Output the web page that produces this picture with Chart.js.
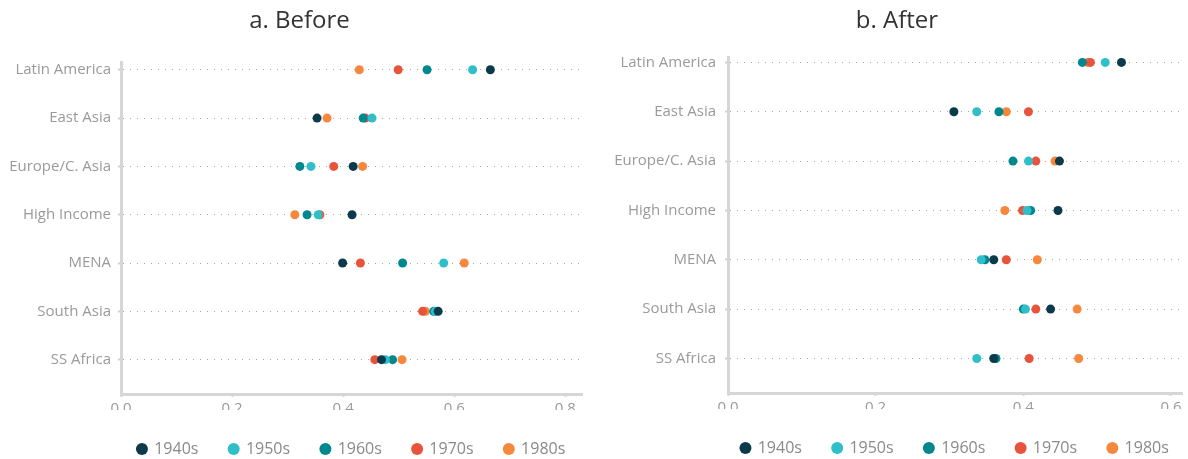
<!DOCTYPE html>
<html>
<head>
<meta charset="utf-8">
<script src="https://cdn.jsdelivr.net/npm/chart.js@4.4.1/dist/chart.umd.min.js"></script>
<style>
    html, body { margin: 0; padding: 0; background: #fff; overflow: hidden; }
    .panel { position: absolute; top: 0; }
    #beforeWrap { left: 0; }
    #afterWrap { left: 600px; }
</style>
</head>
<body>
<div class="panel" id="beforeWrap"><canvas id="beforeChart" width="600" height="467"></canvas></div>
<div class="panel" id="afterWrap"><canvas id="afterChart" width="588" height="466"></canvas></div>
<script>
// Categories / series
const regions = ['Latin America', 'East Asia', 'Europe/C. Asia', 'High Income', 'MENA', 'South Asia', 'SS Africa'];
const decades = ['1940s', '1950s', '1960s', '1970s', '1980s'];
const decadeColors = ['#0b3a4b', '#30bfc8', '#01888f', '#e8533b', '#f5883d'];

// a. Before (one array per decade, in region order)
const before1940s = [0.665, 0.353, 0.418, 0.416, 0.399, 0.571, 0.469];
const before1950s = [0.633, 0.452, 0.342, 0.355, 0.581, 0.566, 0.476];
const before1960s = [0.551, 0.436, 0.322, 0.335, 0.507, 0.563, 0.489];
const before1970s = [0.499, 0.440, 0.383, 0.358, 0.431, 0.543, 0.457];
const before1980s = [0.429, 0.371, 0.435, 0.313, 0.618, 0.548, 0.506];

// b. After
const after1940s = [0.533, 0.306, 0.449, 0.447, 0.360, 0.437, 0.360];
const after1950s = [0.511, 0.337, 0.407, 0.405, 0.343, 0.403, 0.337];
const after1960s = [0.480, 0.367, 0.386, 0.410, 0.348, 0.400, 0.363];
const after1970s = [0.491, 0.407, 0.417, 0.399, 0.377, 0.417, 0.408];
const after1980s = [0.487, 0.377, 0.443, 0.375, 0.419, 0.473, 0.475];

// Tick labels
const beforeTicks = [0, 0.2, 0.4, 0.6, 0.8];
const afterTicks = [0, 0.2, 0.4, 0.6];
const beforeMax = 0.83;
const afterMax = 0.615;

const FONT = "'Open Sans', sans-serif";

// Centre the legend under the plot area and nudge the title centre
const panelLayout = {
    id: 'panelLayout',
    afterLayout(chart, args, opts) {
        const area = chart.chartArea;
        const legend = chart.legend;
        const pad = legend.options.labels.padding;
        legend.left = area.left - pad;
        legend.right = area.right + pad;
        const title = chart.titleBlock;
        title.left = 0;
        title.right = opts.titleCenter * 2;
    }
};

function buildDatasets(series) {
    return series.map((values, i) => ({
        label: decades[i],
        data: values.map((v, r) => ({ x: v, y: r })),
        backgroundColor: decadeColors[i],
        borderColor: decadeColors[i],
        borderWidth: 0,
        pointRadius: 4.5,
        pointHoverRadius: 4.5
    }));
}

function drawPanel(id, title, series, ticks, xMax, cfg) {
    const ctx = document.getElementById(id).getContext('2d');
    new Chart(ctx, {
        type: 'scatter',
        data: { datasets: buildDatasets(series) },
        plugins: [panelLayout],
        options: {
            responsive: false,
            animation: false,
            events: [],
            layout: { padding: { left: 0, right: cfg.padRight, top: 0, bottom: 0 } },
            plugins: {
                panelLayout: { titleCenter: cfg.titleCenter },
                title: {
                    display: true,
                    text: title,
                    color: '#333',
                    font: { family: FONT, size: 24, weight: 'normal' },
                    padding: { top: 7, bottom: cfg.titleGap }
                },
                legend: {
                    position: 'bottom',
                    labels: {
                        usePointStyle: true,
                        boxWidth: 8.5,
                        boxHeight: 8.5,
                        padding: 31,
                        color: '#8a8a8a',
                        font: { family: FONT, size: 16 }
                    }
                },
                tooltip: { enabled: false }
            },
            scales: {
                x: {
                    type: 'linear',
                    min: 0,
                    max: xMax,
                    afterBuildTicks: s => { s.ticks = ticks.map(v => ({ value: v })); },
                    afterFit: s => { s.height = 16; },
                    ticks: {
                        color: '#9a9a9a',
                        font: { family: FONT, size: 15 },
                        padding: 3,
                        maxRotation: 0,
                        callback: v => v.toFixed(1)
                    },
                    grid: {
                        drawOnChartArea: false,
                        drawTicks: true,
                        tickLength: 3,
                        tickWidth: 2,
                        tickColor: '#d6d6d6'
                    },
                    border: { color: '#d6d6d6', width: 3 }
                },
                y: {
                    type: 'linear',
                    reverse: true,
                    min: cfg.yMin,
                    max: cfg.yMax,
                    afterBuildTicks: s => { s.ticks = regions.map((r, i) => ({ value: i })); },
                    afterFit: s => { s.width = cfg.yWidth; },
                    ticks: {
                        color: '#9a9a9a',
                        font: { family: FONT, size: 15 },
                        padding: cfg.labelPad,
                        autoSkip: false,
                        callback: v => regions[v]
                    },
                    grid: {
                        color: '#a8a8a8',
                        lineWidth: 1,
                        tickLength: 3,
                        tickWidth: 2,
                        tickColor: '#d0d0d0'
                    },
                    border: { color: '#d6d6d6', width: 3, dash: [1, 6] }
                }
            }
        }
    });
}

drawPanel('beforeChart', 'a. Before',
    [before1940s, before1950s, before1960s, before1970s, before1980s],
    beforeTicks, beforeMax,
    { padRight: 18, titleGap: 26.2, titleCenter: 299.5,
      yMin: -0.16, yMax: 6.71, yWidth: 121, labelPad: 7 });

drawPanel('afterChart', 'b. After',
    [after1940s, after1950s, after1960s, after1970s, after1980s],
    afterTicks, afterMax,
    { padRight: 6, titleGap: 21.2, titleCenter: 297,
      yMin: -0.11, yMax: 6.70, yWidth: 128, labelPad: 9 });
</script>
</body>
</html>
